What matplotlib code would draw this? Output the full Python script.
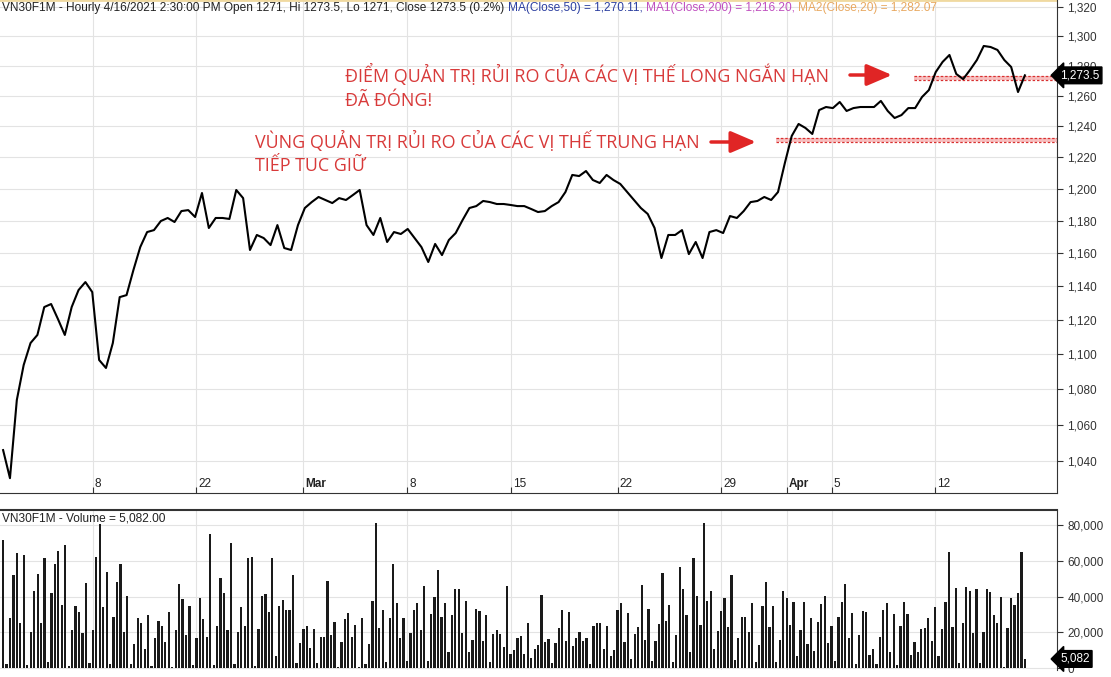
import numpy as np
import matplotlib
matplotlib.use("Agg")
import matplotlib.pyplot as plt
from matplotlib.ticker import FixedLocator, FuncFormatter, NullLocator

price = [1046.0, 1030.7, 1073.9, 1093.8, 1106.5, 1111.2, 1127.6, 1129.4, 1120.5, 1111.2,
         1127.6, 1137.7, 1142.5, 1136.5, 1096.7, 1092.1, 1106.5, 1133.5, 1134.7, 1149.7,
         1163.7, 1172.9, 1174.1, 1179.7, 1181.6, 1179.1, 1185.9, 1186.5, 1182.2, 1197.2,
         1175.4, 1181.6, 1181.6, 1181.0, 1199.1, 1194.0, 1161.9, 1171.1, 1169.2, 1164.9,
         1177.2, 1163.1, 1161.9, 1177.2, 1187.8, 1191.5, 1194.7, 1192.8, 1190.9, 1194.0,
         1192.8, 1195.9, 1199.1, 1177.2, 1171.1, 1181.6, 1166.8, 1172.9, 1171.7, 1174.8,
         1169.2, 1163.7, 1154.6, 1165.6, 1158.8, 1168.0, 1172.3, 1180.3, 1187.8, 1189.0,
         1192.2, 1191.5, 1190.3, 1190.3, 1189.7, 1189.0, 1189.0, 1187.2, 1185.3, 1185.9,
         1189.0, 1191.5, 1197.8, 1208.6, 1207.9, 1211.1, 1205.4, 1203.5, 1208.6, 1205.4,
         1202.9, 1197.8, 1192.8, 1187.8, 1184.1, 1175.4, 1157.0, 1171.1, 1171.1, 1174.1,
         1159.4, 1166.8, 1157.0, 1172.9, 1174.1, 1172.3, 1182.8, 1181.6, 1185.9, 1191.5,
         1192.2, 1194.7, 1192.8, 1197.8, 1216.2, 1233.6, 1241.4, 1238.8, 1234.9, 1250.5,
         1252.5, 1251.8, 1255.8, 1249.9, 1251.8, 1252.5, 1252.5, 1252.5, 1256.5, 1249.9,
         1245.3, 1247.2, 1251.8, 1251.8, 1259.1, 1263.7, 1275.7, 1282.5, 1287.2, 1274.4,
         1271.0, 1277.1, 1283.8, 1293.3, 1292.6, 1290.6, 1283.8, 1279.1, 1262.4, 1273.5]

volume_k = [71.6, 2.0, 27.8, 52.0, 64.2, 25.0, 63.2, 1.7, 20.3, 43.1, 52.4, 25.0, 61.7, 3.2, 41.8,
            58.0, 65.6, 35.2, 68.8, 1.1, 21.3, 34.9, 31.5, 19.8, 47.7, 2.6, 21.1, 62.3, 80.4, 33.9,
            53.7, 2.2, 28.3, 47.9, 58.0, 20.3, 40.3, 2.0, 13.4, 27.8, 25.0, 10.6, 29.7, 1.1, 17.0,
            26.3, 23.7, 14.4, 31.1, 0.5, 21.1, 47.0, 38.6, 18.5, 34.7, 1.7, 17.0, 39.4, 27.2, 17.2,
            74.8, 1.7, 23.7, 50.5, 41.8, 21.1, 69.8, 2.2, 20.1, 33.9, 23.7, 61.4, 62.3, 1.3, 21.8,
            40.5, 41.2, 31.1, 61.4, 6.7, 34.7, 38.2, 32.5, 32.5, 52.0, 2.6, 14.2, 21.8, 23.7, 11.4,
            21.8, 2.6, 17.2, 17.2, 48.7, 18.5, 25.9, 0.4, 14.4, 27.2, 30.6, 17.3, 24.1, 0.4,
            27.8, 2.2, 13.3, 37.4, 81.4, 22.6, 32.2, 3.1, 28.1, 58.3, 36.6, 17.0, 28.1, 4.1, 19.8,
            32.7, 36.1, 21.3, 45.7, 4.1, 30.0, 39.6, 54.6, 28.7, 36.4, 8.7, 29.6, 44.0, 44.0, 19.8,
            37.7, 8.9, 15.7, 33.3, 31.8, 15.4, 29.4, 3.1, 19.2, 21.3, 19.1, 11.7, 45.7, 8.0, 10.2,
            16.7, 17.9, 8.0, 25.0, 5.6, 10.5, 13.0, 41.1, 14.8, 16.1, 2.8, 13.9, 22.2, 32.4, 15.4,
            31.3, 12.6, 17.0, 20.0, 15.4, 16.7, 2.2, 23.7, 25.3, 25.3, 10.4, 23.7, 6.8, 10.2, 32.2,
            36.6, 14.8, 30.9, 5.2, 19.1, 22.8, 46.3, 15.7, 33.1, 4.1, 15.4, 24.6, 53.1, 26.5, 35.2,
            3.1, 18.3, 56.4, 44.4, 29.6, 8.9, 61.4, 40.1, 24.1,
            81.0, 37.6, 42.9, 10.7, 20.7, 31.8, 39.2, 22.8, 51.8, 4.6, 16.7, 28.5, 28.5, 20.0, 36.1,
            3.1, 13.0, 34.8, 48.1, 23.1, 34.6, 3.1, 15.7, 42.9, 38.9, 24.1, 37.0, 6.8, 21.1, 37.0,
            13.5, 27.8, 9.8, 25.9, 35.7, 40.5, 13.9, 23.3, 4.1, 28.7, 37.0, 46.8, 17.0, 30.9, 2.2,
            18.5, 32.0, 31.3, 7.4, 10.9, 2.4, 17.6, 32.2, 36.1, 8.9, 30.3, 1.9, 23.3, 37.0, 30.0,
            7.4, 14.4, 8.7, 21.6, 22.2, 28.1, 15.4, 34.2, 6.7, 21.6, 37.0, 64.8, 23.1, 45.0, 2.6,
            25.0, 45.3, 43.1, 19.8, 44.4, 2.6, 20.4, 44.4, 42.6, 29.6, 25.0, 39.8, 0.4, 22.2, 39.2,
            35.2, 42.0, 65.1, 5.082]

price_ticks = list(range(1040, 1321, 20))
vol_ticks = [0, 20000, 40000, 60000, 80000]
date_tick_pos = [26, 56, 87, 117, 147, 178, 208, 227, 240, 270]
date_tick_labels = ["8", "22", "Mar", "8", "15", "22", "29", "Apr", "5", "12"]
band_long = (1270.5, 1273.0, 264)
band_mid = (1229.7, 1232.3, 224)

plt.rcParams['font.family'] = ['Liberation Sans', 'DejaVu Sans']

W, H = 1111, 677
fig = plt.figure(figsize=(W / 100, H / 100), dpi=100)
def fx(x): return x / W
def fy(y): return 1 - y / H

vol = np.array(volume_k) * 1000
nv = len(vol)
xv = np.arange(nv)
xp = np.linspace(0, nv - 1, len(price))
xlim = (-0.9, 308.4 * (nv - 1) / 299)

ax = fig.add_axes([0, fy(493), fx(1057), fy(0) - fy(493)])
axv = fig.add_axes([0, fy(670), fx(1057), fy(510) - fy(670)])

grid_c = "#e3e3e3"
ax.set_yscale("log")
ax.set_ylim(1022.7, 1324.9)
ax.set_xlim(*xlim)
ax.yaxis.set_major_locator(FixedLocator(price_ticks))
ax.yaxis.set_minor_locator(NullLocator())
ax.yaxis.set_major_formatter(FuncFormatter(lambda v, p: f"{v:,.0f}"))
ax.yaxis.tick_right()
ax.set_xticks(date_tick_pos)
ax.set_xticklabels([])
ax.tick_params(axis="x", direction="in", length=4, color="#333333")
ax.tick_params(axis="y", labelsize=8.5, labelcolor="#333333", length=4, color="#333333")
ax.grid(True, color=grid_c, lw=0.8)
ax.set_axisbelow(True)
for s in ["top", "left"]:
    ax.spines[s].set_visible(False)
for s in ["right", "bottom"]:
    ax.spines[s].set_color("#333333")

ax.plot(xp, price, color="black", lw=1.5, zorder=3)

for lo, hi, x0 in (band_long, band_mid):
    ax.fill_between([x0, xlim[1]], lo, hi, color="#f7c0c0", zorder=2, lw=0)
    ax.hlines([lo, hi], x0, xlim[1], colors="#d83030", linestyles=(0, (2, 1.5)), lw=0.9, zorder=2)

for pos, lab in zip(date_tick_pos, date_tick_labels):
    ax.text(pos + 0.6, 0.006, lab, transform=ax.get_xaxis_transform(), fontsize=8.5,
            ha="left", va="bottom", color="#222222",
            fontweight="bold" if lab in ("Mar", "Apr") else "normal")

# header
t = ax.text(0.002, 0.995, "VN30F1M - Hourly 4/16/2021 2:30:00 PM Open 1271, Hi 1273.5, Lo 1271, Close 1273.5 (0.2%) ",
            transform=ax.transAxes, fontsize=8.6, va="top", ha="left", color="#222222")
for txt, col in [("MA(Close,50) = 1,270.11, ", "#2c3fa0"), ("MA1(Close,200) = 1,216.20, ", "#c050c0"),
                 ("MA2(Close,20) = 1,282.07", "#e8a860")]:
    t = ax.annotate(txt, xy=(1, 0), xycoords=t, fontsize=8.6, va="bottom", ha="left", color=col)
ax.axhline(1324.9, color="#f0d9a0", lw=2)

# price label
ax.text(1.003, 1273.5, "1,273.5", transform=ax.get_yaxis_transform(), fontsize=8.5, color="white",
        va="center", ha="left", bbox=dict(boxstyle="larrow,pad=0.2", fc="black", ec="black"), zorder=5)

# red annotations
red = "#d83a3a"
fs = 12.9
fam = ["Open Sans", "DejaVu Sans"]
fig.text(fx(345), fy(75), "ĐIỂM QUẢN TRỊ RỦI RO CỦA CÁC VỊ THẾ LONG NGẮN HẠN", fontsize=fs, color=red,
         va="center", ha="left", family=fam)
fig.text(fx(345), fy(101), "ĐÃ ĐÓNG!", fontsize=fs, color=red, va="center", ha="left", family=fam)
fig.text(fx(255), fy(141), "VÙNG QUẢN TRỊ RỦI RO CỦA CÁC VỊ THẾ TRUNG HẠN", fontsize=fs, color=red,
         va="center", ha="left", family=fam)
fig.text(fx(255), fy(166), "TIẾP TUC GIỮ", fontsize=fs, color=red, va="center", ha="left", family=fam)
for (x0, x1, y) in [(850, 892, 75), (711, 756, 142)]:
    fig.add_artist(matplotlib.patches.FancyArrowPatch((fx(x0), fy(y)), (fx(x1), fy(y)),
                   transform=fig.transFigure, arrowstyle="-|>,head_length=7,head_width=3",
                   color="#e02525", lw=2.5, mutation_scale=2.2, shrinkA=0, shrinkB=0))

# volume
axv.bar(xv, vol, width=0.65, color="#1a1a1a", zorder=3)
axv.set_xlim(*xlim)
axv.set_ylim(-1100, 88400)
axv.yaxis.tick_right()
axv.yaxis.set_major_locator(FixedLocator(vol_ticks))
axv.yaxis.set_major_formatter(FuncFormatter(lambda v, p: f"{v:,.0f}"))
axv.tick_params(axis="y", labelsize=8.5, labelcolor="#333333", length=4, color="#333333")
axv.set_xticks(date_tick_pos)
axv.set_xticklabels([])
axv.tick_params(axis="x", length=0)
axv.grid(True, color=grid_c, lw=0.8)
axv.set_axisbelow(True)
for s in ["left", "bottom"]:
    axv.spines[s].set_visible(False)
axv.spines["top"].set_linewidth(1.5)
axv.spines["top"].set_color("#333333")
axv.spines["right"].set_color("#333333")
axv.text(0.002, 0.985, "VN30F1M - Volume = 5,082.00", transform=axv.transAxes, fontsize=8.6,
         va="top", ha="left", color="#222222")
axv.text(1.003, 5082, "5,082", transform=axv.get_yaxis_transform(), fontsize=8.5, color="white",
         va="center", ha="left", bbox=dict(boxstyle="larrow,pad=0.2", fc="black", ec="black"), zorder=5)

fig.savefig("out.png", dpi=100)
